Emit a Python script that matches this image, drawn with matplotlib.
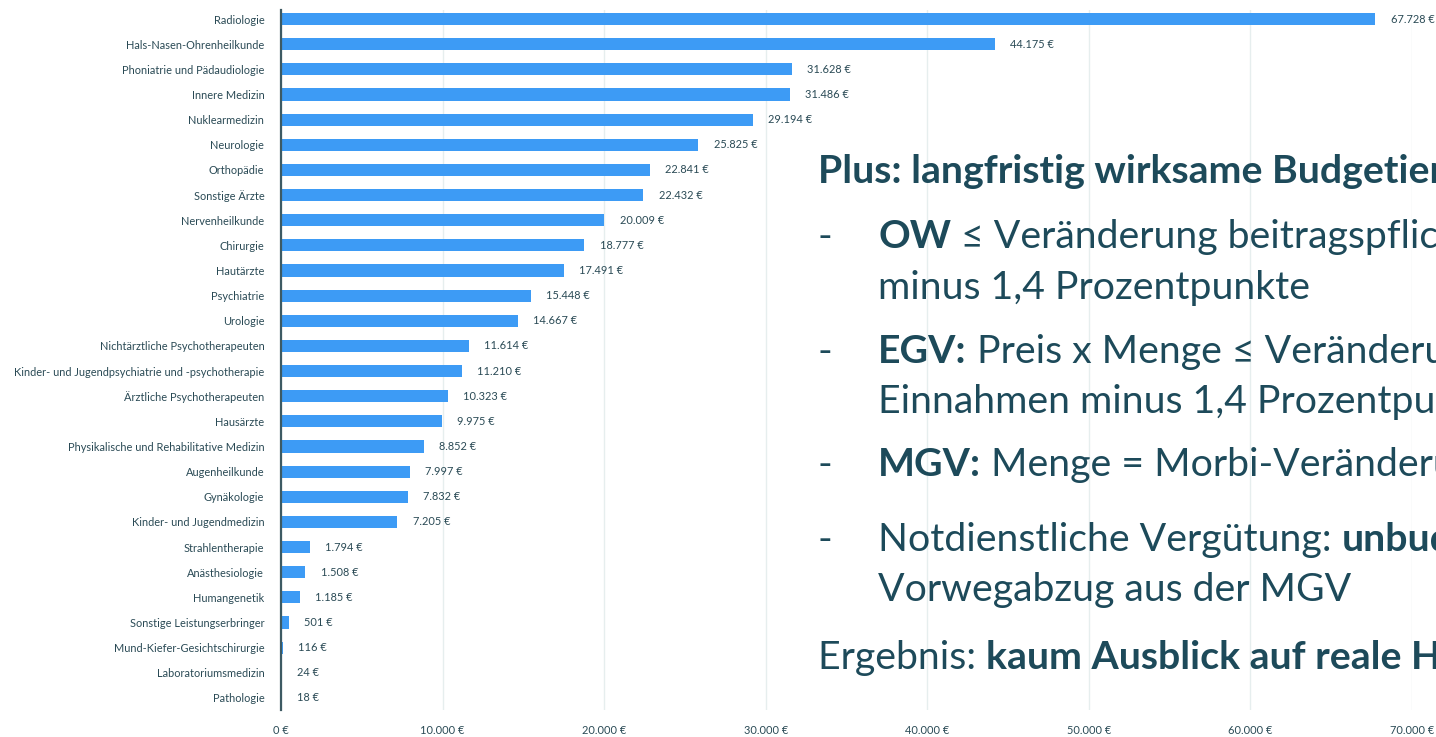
import matplotlib
matplotlib.use("Agg")
import matplotlib.pyplot as plt
from matplotlib.ticker import FuncFormatter

categories = [
    "Radiologie", "Hals-Nasen-Ohrenheilkunde", "Phoniatrie und Pädaudiologie",
    "Innere Medizin", "Nuklearmedizin", "Neurologie", "Orthopädie", "Sonstige Ärzte",
    "Nervenheilkunde", "Chirurgie", "Hautärzte", "Psychiatrie", "Urologie",
    "Nichtärztliche Psychotherapeuten", "Kinder- und Jugendpsychiatrie und -psychotherapie",
    "Ärztliche Psychotherapeuten", "Hausärzte", "Physikalische und Rehabilitative Medizin",
    "Augenheilkunde", "Gynäkologie", "Kinder- und Jugendmedizin", "Strahlentherapie",
    "Anästhesiologie", "Humangenetik", "Sonstige Leistungserbringer",
    "Mund-Kiefer-Gesichtschirurgie", "Laboratoriumsmedizin", "Pathologie",
]
values = [67728, 44175, 31628, 31486, 29194, 25825, 22841, 22432, 20009, 18777,
          17491, 15448, 14667, 11614, 11210, 10323, 9975, 8852, 7997, 7832, 7205,
          1794, 1508, 1185, 501, 116, 24, 18]
x_ticks = [0, 10000, 20000, 30000, 40000, 50000, 60000, 70000]

W, H = 1436, 737
BAR = "#3d9bf5"
TXT = "#2a4a55"
DARK = "#1d4a5a"
SMALL = 7.9
SMALLFONT = "Lato"
SLIDEFONT = "Lato"

def eur(v):
    return f"{int(v):,}".replace(",", ".") + " €"

fig = plt.figure(figsize=(W / 100, H / 100), dpi=100)
ax = fig.add_axes([281 / W, 1 - 710 / H, (1412 - 281) / W, 700 / H])

ypos = list(range(len(categories)))
ax.barh(ypos, values, height=0.48, color=BAR, zorder=3)
ax.set_xlim(0, 70000)
ax.set_ylim(27.48, -0.36)
ax.set_yticks(ypos)
ax.set_yticklabels(categories, fontsize=SMALL, color=TXT, family=SMALLFONT)
ax.set_xticks(x_ticks)
ax.xaxis.set_major_formatter(FuncFormatter(lambda v, p: eur(v)))
for lab in ax.get_xticklabels():
    lab.set_fontsize(SMALL)
    lab.set_color(TXT)
    lab.set_family(SMALLFONT)
ax.tick_params(axis="x", length=0, pad=11)
ax.tick_params(axis="y", length=0, pad=12)
ax.grid(axis="x", color="#e6eeee", linewidth=1, zorder=0)
for s in ["top", "right", "bottom"]:
    ax.spines[s].set_visible(False)
ax.spines["left"].set_color("#3d5a63")
ax.spines["left"].set_linewidth(1.6)
ax.spines["left"].set_zorder(4)

for y, v in zip(ypos, values):
    ax.annotate(eur(v), (v, y), xytext=(11, 0), textcoords="offset points",
                va="center", ha="left", fontsize=SMALL, color=TXT, family=SMALLFONT)

# fit slide font size so the title's visible part spans the same width as in the reference
fig.canvas.draw()
probe = fig.text(0, 0, "Plus: langfristig wirksame Budgetie", fontsize=20,
                 family=SLIDEFONT, weight="bold")
w20 = probe.get_window_extent(fig.canvas.get_renderer()).width
probe.remove()
fs = 20 * 612 / w20

def ft(x, y, parts, fontsize=None):
    fsz = fontsize or fs
    xx = x
    r = fig.canvas.get_renderer()
    for txt, bold in parts:
        t = fig.text(xx / W, 1 - y / H, txt, fontsize=fsz, color=DARK,
                     family=SLIDEFONT, weight="bold" if bold else "normal",
                     va="baseline", ha="left")
        xx = t.get_window_extent(r).x1

ft(818, 183, [("Plus: langfristig wirksame Budgetierung", True)])
ft(818, 248, [("-", False)])
ft(878, 248, [("OW", True), (" ≤ Veränderung beitragspflichtiger Einnahmen", False)])
ft(878, 299, [("minus 1,4 Prozentpunkte", False)])
ft(818, 363, [("-", False)])
ft(878, 363, [("EGV:", True), (" Preis x Menge ≤ Veränderung beitragspflichtiger", False)])
ft(878, 413, [("Einnahmen minus 1,4 Prozentpunkte", False)])
ft(818, 476, [("-", False)])
ft(878, 476, [("MGV:", True), (" Menge = Morbi-Veränderung", False)])
ft(818, 551, [("-", False)])
ft(878, 551, [("Notdienstliche Vergütung: ", False), ("unbudgetiert", True), (", aber", False)])
ft(878, 601, [("Vorwegabzug aus der MGV", False)])
ft(818, 669, [("Ergebnis: ", False), ("kaum Ausblick auf reale Honorarentwicklung", True)])

fig.savefig("out.png", dpi=100)
